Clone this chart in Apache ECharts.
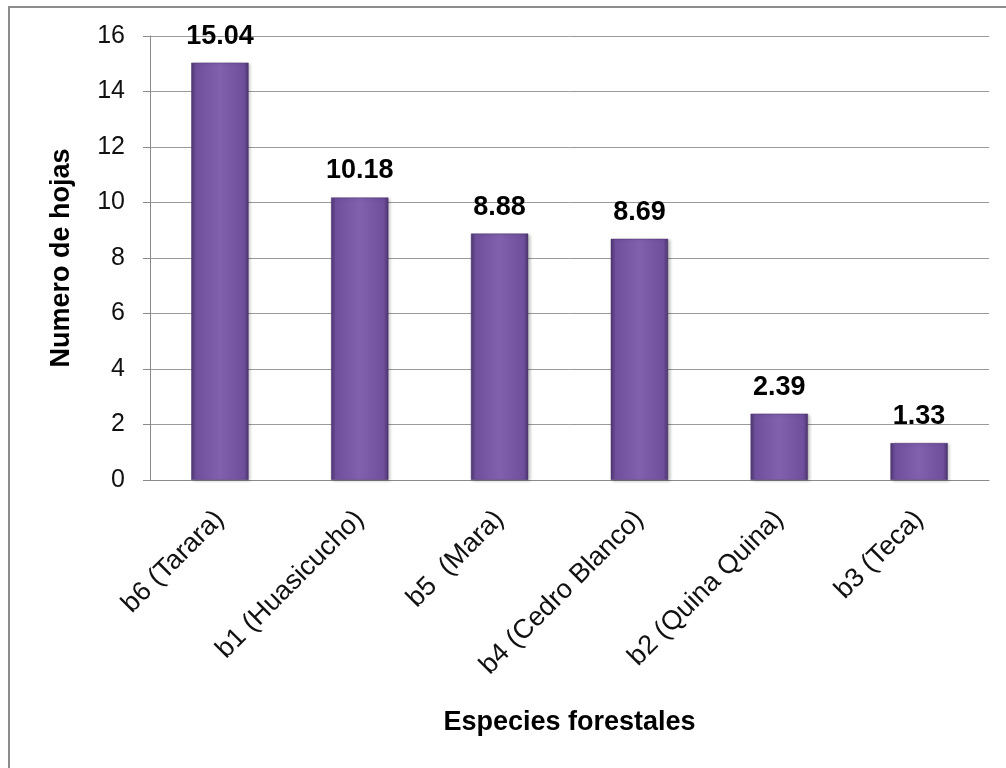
<!DOCTYPE html>
<html>
<head>
<meta charset="utf-8">
<script src="https://cdn.jsdelivr.net/npm/echarts@6/dist/echarts.min.js"></script>
<style>
  html, body { margin: 0; padding: 0; background: #fff; overflow: hidden; }
  #frame { position: absolute; left: 8px; top: 6px; width: 1100px; height: 900px;
           border: 2px solid #8c8c8c; box-sizing: border-box; }
  #chart { position: absolute; left: 0; top: 0; width: 1006px; height: 768px; }
</style>
</head>
<body>
<div id="frame"></div>
<div id="chart"></div>
<script>
// Species and mean leaf count per species
const categories = ['b6 (Tarara)', 'b1 (Huasicucho)', 'b5  (Mara)', 'b4 (Cedro Blanco)', 'b2 (Quina Quina)', 'b3 (Teca)'];
const values = [15.04, 10.18, 8.88, 8.69, 2.39, 1.33];
const yTicks = { min: 0, max: 16, interval: 2 };

const font = 'Arial, "Liberation Sans", sans-serif';

const chart = echarts.init(document.getElementById('chart'), null, { renderer: 'canvas' });

const barFill = new echarts.graphic.LinearGradient(0, 0, 1, 0, [
  { offset: 0, color: '#4f3772' },
  { offset: 0.08, color: '#6f4f9c' },
  { offset: 0.5, color: '#8161ae' },
  { offset: 0.92, color: '#6f4f9c' },
  { offset: 1, color: '#4b346c' }
]);

chart.setOption({
  animation: false,
  backgroundColor: 'transparent',
  grid: { left: 150, right: 17, top: 36, bottom: 288, containLabel: false },
  xAxis: {
    type: 'category',
    data: categories,
    name: 'Especies forestales',
    nameLocation: 'middle',
    nameGap: 229,
    nameTextStyle: { fontFamily: font, fontSize: 27, fontWeight: 'bold', color: '#000' },
    axisLine: { lineStyle: { color: '#8a8a8a', width: 1 } },
    axisTick: { show: false },
    axisLabel: { rotate: 45, margin: 35, fontFamily: font, fontSize: 27, color: '#111', interval: 0 }
  },
  yAxis: {
    type: 'value',
    min: yTicks.min,
    max: yTicks.max,
    interval: yTicks.interval,
    name: 'Numero de hojas',
    nameLocation: 'middle',
    nameGap: 75,
    nameRotate: 90,
    nameTextStyle: { fontFamily: font, fontSize: 27, fontWeight: 'bold', color: '#000' },
    axisLine: { show: true, lineStyle: { color: '#8a8a8a', width: 1 } },
    axisTick: { show: true, length: 7, lineStyle: { color: '#8a8a8a' } },
    axisLabel: { margin: 25, fontFamily: font, fontSize: 25, color: '#111' },
    splitLine: { lineStyle: { color: '#9a9a9a', width: 1 } }
  },
  series: [{
    type: 'bar',
    data: values,
    barWidth: '41%',
    itemStyle: {
      color: barFill,
      borderColor: '#4a336a',
      borderWidth: 0.5,
      shadowColor: 'rgba(0,0,0,0.25)',
      shadowBlur: 3,
      shadowOffsetX: 2,
      shadowOffsetY: 1
    },
    label: {
      show: true,
      position: 'top',
      distance: 13,
      fontFamily: font,
      fontSize: 27,
      fontWeight: 'bold',
      color: '#000',
      formatter: p => p.value.toFixed(2)
    }
  }]
});
</script>
</body>
</html>
